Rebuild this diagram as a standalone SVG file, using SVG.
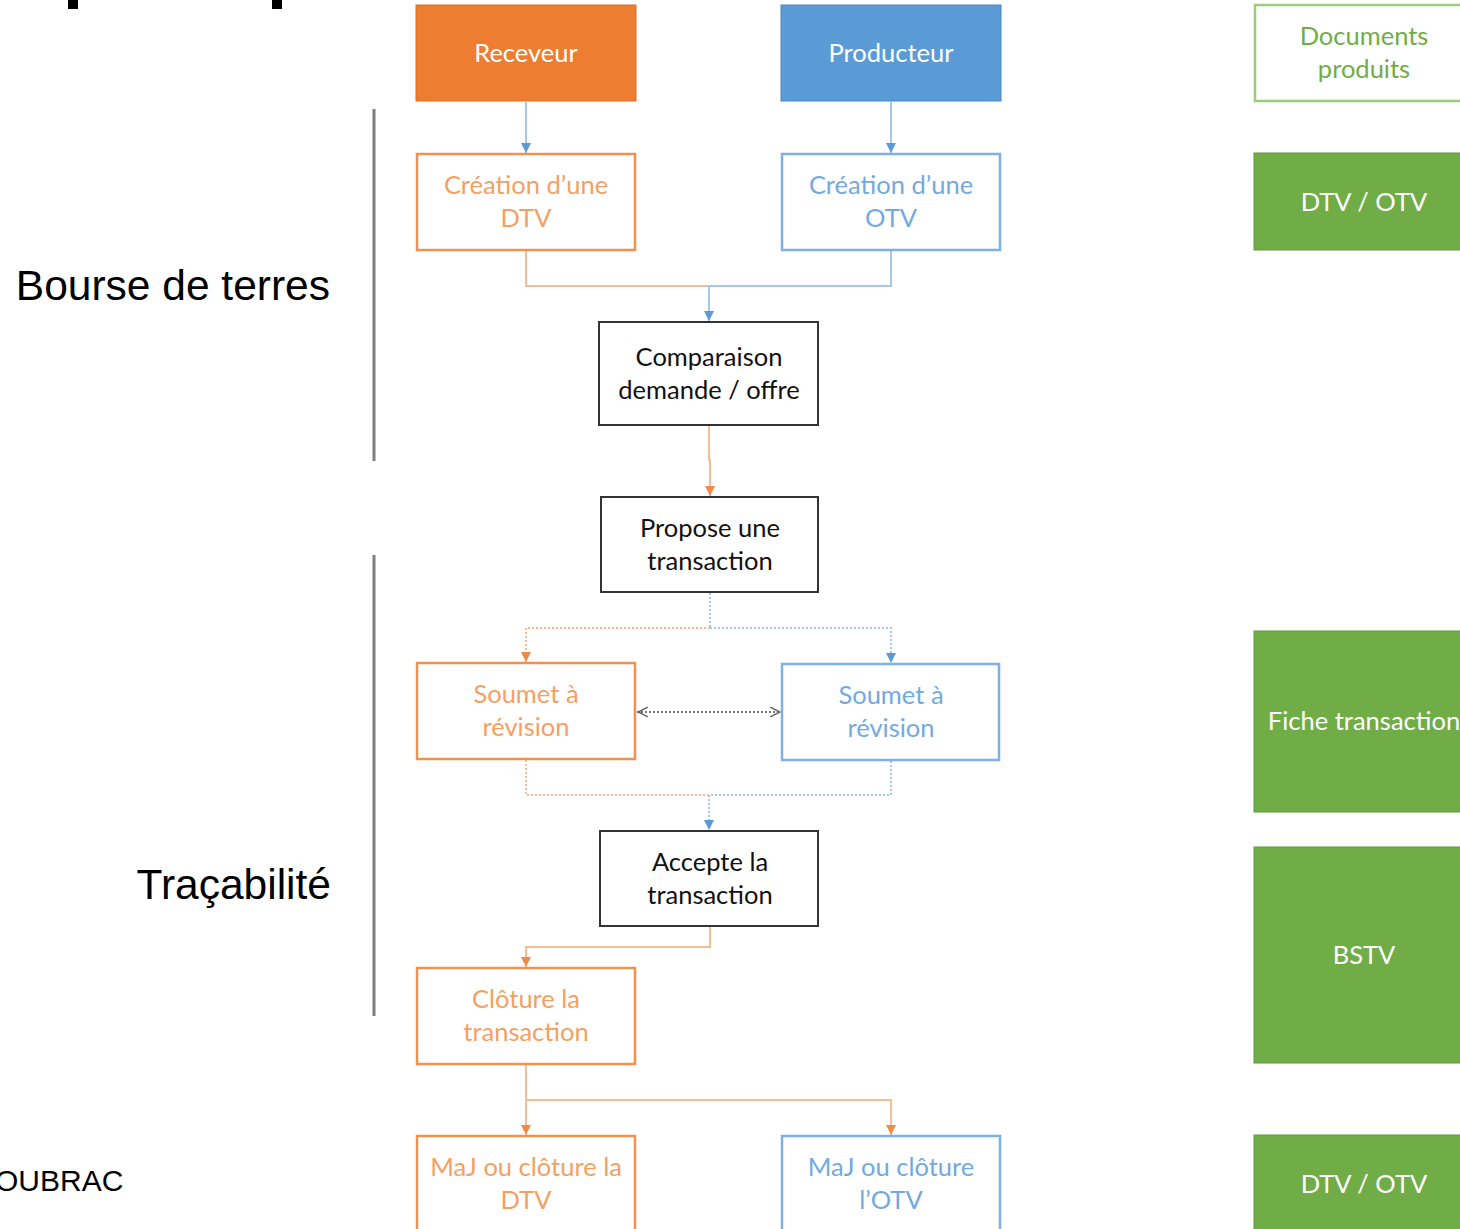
<svg xmlns="http://www.w3.org/2000/svg" width="1460" height="1229" viewBox="0 0 1460 1229">
<style>
.node text{font-family:Lato,"Open Sans",sans-serif;font-size:25.5px;text-anchor:middle}
.lbl{font-family:"Liberation Sans",Arial,sans-serif;fill:#000}
.fo{fill:#ED7D31;stroke:#D9702A;stroke-width:1}
.fb{fill:#5B9BD5;stroke:#4A86BF;stroke-width:1}
.oo{fill:#fff;stroke:#F2914F;stroke-width:2.5}
.ob{fill:#fff;stroke:#7EB1E1;stroke-width:2.5}
.ok{fill:#fff;stroke:#333;stroke-width:2}
.og{fill:#fff;stroke:#9CCB7C;stroke-width:2.5}
.fg{fill:#70AD47;stroke:#62993D;stroke-width:1}
.tw{fill:#fff}
.to{fill:#F4A064}
.tb{fill:#72AADF}
.tk{fill:#111}
.tg{fill:#70AD47}
.co{fill:none;stroke:#F7BC94;stroke-width:2}
.cb{fill:none;stroke:#A5C8EA;stroke-width:2}
.dash{stroke-dasharray:2 2}
</style>
<defs>
<marker id="ao" viewBox="0 0 10 10" refX="10" refY="5" markerWidth="5" markerHeight="5" orient="auto" markerUnits="strokeWidth"><path d="M0,0 L10,5 L0,10 z" fill="#F08A45"/></marker>
<marker id="ab" viewBox="0 0 10 10" refX="10" refY="5" markerWidth="5" markerHeight="5" orient="auto" markerUnits="strokeWidth"><path d="M0,0 L10,5 L0,10 z" fill="#5B9BD5"/></marker>
<marker id="ag" viewBox="0 0 10 10" refX="10" refY="5" markerWidth="6" markerHeight="6" orient="auto-start-reverse" markerUnits="strokeWidth"><path d="M1,1 L9,5 L1,9" fill="none" stroke="#666" stroke-width="1.2"/></marker>
</defs>
<rect width="1460" height="1229" fill="#fff"/>

<rect x="68" y="0" width="10" height="9" fill="#000"/>
<rect x="272" y="0" width="10" height="9" fill="#000"/>

<text class="lbl" x="330" y="300" font-size="42.5" text-anchor="end">Bourse de terres</text>
<text class="lbl" x="331" y="899" font-size="42.5" text-anchor="end">Traçabilité</text>
<text class="lbl" x="-5" y="1191" font-size="30">OUBRAC</text>
<rect x="372.5" y="109" width="3" height="352" fill="#7F7F7F"/>
<rect x="372.5" y="555" width="3" height="461" fill="#7F7F7F"/>

<g id="connectors">
<line class="cb" x1="526" y1="102" x2="526" y2="153" marker-end="url(#ab)"/>
<line class="cb" x1="891" y1="102" x2="891" y2="153" marker-end="url(#ab)"/>
<polyline class="co" points="526,251 526,286 709,286"/>
<polyline class="cb" points="891,251 891,286 709,286"/>
<line class="cb" x1="709" y1="286" x2="709" y2="321" marker-end="url(#ab)"/>
<polyline class="co" points="709,426 709,460 710,460 710,496" marker-end="url(#ao)"/>
<line class="cb dash" x1="710" y1="593" x2="710" y2="628"/>
<polyline class="co dash" points="710,628 526,628 526,662" marker-end="url(#ao)"/>
<polyline class="cb dash" points="710,628 891,628 891,663" marker-end="url(#ab)"/>
<line x1="637" y1="712" x2="781" y2="712" stroke="#777" stroke-width="2" stroke-dasharray="2 2" marker-start="url(#ag)" marker-end="url(#ag)"/>
<polyline class="co dash" points="526,760 526,795 709,795"/>
<polyline class="cb dash" points="891,761 891,795 709,795"/>
<line class="cb dash" x1="709" y1="795" x2="709" y2="830" marker-end="url(#ab)"/>
<polyline class="co" points="710,927 710,947 526,947 526,967" marker-end="url(#ao)"/>
<line class="co" x1="526" y1="1065" x2="526" y2="1135" marker-end="url(#ao)"/>
<polyline class="co" points="526,1100 891,1100 891,1135" marker-end="url(#ao)"/>
</g>

<g id="receveur" class="node"><rect class="fo" x="416" y="5" width="220" height="96"/><text class="tw" x="526" y="62">Receveur</text></g>
<g id="producteur" class="node"><rect class="fb" x="781" y="5" width="220" height="96"/><text class="tw" x="891" y="62">Producteur</text></g>
<g id="creation-dtv" class="node"><rect class="oo" x="417" y="154" width="218" height="96"/><text class="to" x="526" y="194">Création d’une</text><text class="to" x="526" y="227">DTV</text></g>
<g id="creation-otv" class="node"><rect class="ob" x="782" y="154" width="218" height="96"/><text class="tb" x="891" y="194">Création d’une</text><text class="tb" x="891" y="227">OTV</text></g>
<g id="comparaison" class="node"><rect class="ok" x="599" y="322" width="219" height="103"/><text class="tk" x="709" y="366">Comparaison</text><text class="tk" x="709" y="399">demande / offre</text></g>
<g id="propose" class="node"><rect class="ok" x="601" y="497" width="217" height="95"/><text class="tk" x="710" y="537">Propose une</text><text class="tk" x="710" y="570">transaction</text></g>
<g id="soumet-o" class="node"><rect class="oo" x="417" y="663" width="218" height="96"/><text class="to" x="526" y="703">Soumet à</text><text class="to" x="526" y="736">révision</text></g>
<g id="soumet-b" class="node"><rect class="ob" x="782" y="664" width="217" height="96"/><text class="tb" x="891" y="704">Soumet à</text><text class="tb" x="891" y="737">révision</text></g>
<g id="accepte" class="node"><rect class="ok" x="600" y="831" width="218" height="95"/><text class="tk" x="710" y="871">Accepte la</text><text class="tk" x="710" y="904">transaction</text></g>
<g id="cloture" class="node"><rect class="oo" x="417" y="968" width="218" height="96"/><text class="to" x="526" y="1008">Clôture la</text><text class="to" x="526" y="1041">transaction</text></g>
<g id="maj-dtv" class="node"><rect class="oo" x="417" y="1136" width="218" height="110"/><text class="to" x="526" y="1176">MaJ ou clôture la</text><text class="to" x="526" y="1209">DTV</text></g>
<g id="maj-otv" class="node"><rect class="ob" x="782" y="1136" width="218" height="110"/><text class="tb" x="891" y="1176">MaJ ou clôture</text><text class="tb" x="891" y="1209">l’OTV</text></g>

<g id="documents" class="node"><rect class="og" x="1255" y="5" width="220" height="96"/><text class="tg" x="1364" y="45">Documents</text><text class="tg" x="1364" y="78">produits</text></g>
<g id="doc-dtv-otv" class="node"><rect class="fg" x="1254" y="153" width="220" height="97"/><text class="tw" x="1364" y="211">DTV / OTV</text></g>
<g id="doc-fiche" class="node"><rect class="fg" x="1254" y="631" width="220" height="181"/><text class="tw" x="1364" y="730">Fiche transaction</text></g>
<g id="doc-bstv" class="node"><rect class="fg" x="1254" y="847" width="220" height="216"/><text class="tw" x="1364" y="964">BSTV</text></g>
<g id="doc-dtv-otv2" class="node"><rect class="fg" x="1254" y="1135" width="220" height="110"/><text class="tw" x="1364" y="1193">DTV / OTV</text></g>
</svg>
